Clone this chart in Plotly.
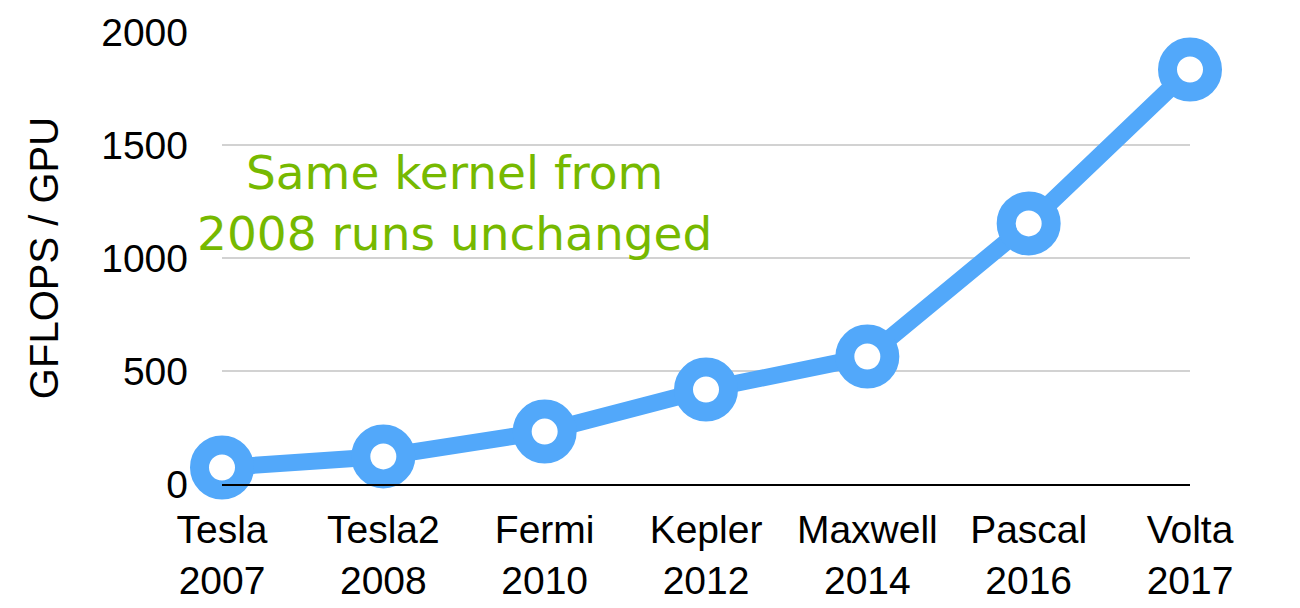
'''
    Line chart of GFLOPS per GPU across generations.
'''

import plotly.graph_objects as go

gpus = ['Tesla<br>2007', 'Tesla2<br>2008', 'Fermi<br>2010', 'Kepler<br>2012',
        'Maxwell<br>2014', 'Pascal<br>2016', 'Volta<br>2017']
gflops = [73, 122, 232, 418, 564, 1153, 1834]
y_ticks = [0, 500, 1000, 1500, 2000]

note = 'Same kernel from<br>2008 runs unchanged'

BLUE = 'rgb(82,168,250)'
GREEN = 'rgb(118,185,0)'


def line_chart():
    fig = go.Figure()
    fig.add_trace(go.Scatter(
        x=list(range(len(gpus))), y=gflops, mode='lines+markers',
        line=dict(color=BLUE, width=17),
        marker=dict(size=45, color='white', line=dict(color=BLUE, width=19)),
        cliponaxis=False, showlegend=False))

    fig.add_annotation(x=1.44, y=1245, xref='x', yref='y', text=note,
                       showarrow=False, align='center',
                       font=dict(family='DejaVu Sans', size=47, color=GREEN))

    fig.update_xaxes(range=[0, 6], tickmode='array', tickvals=list(range(len(gpus))),
                     ticktext=gpus, showgrid=False, zeroline=False, automargin=False,
                     showline=True, linecolor='black', linewidth=2,
                     ticks='', ticklabelstandoff=10,
                     tickfont=dict(family='Liberation Sans', size=39, color='black'))
    fig.update_yaxes(range=[0, 2000], tickvals=y_ticks, showgrid=True, automargin=False,
                     gridcolor='rgb(210,210,210)', gridwidth=1.5, zeroline=False,
                     showline=False, ticks='', ticklabelstandoff=33,
                     tickfont=dict(family='Liberation Sans', size=39, color='black'),
                     title=dict(text='GFLOPS / GPU', standoff=30,
                                font=dict(family='Liberation Sans', size=40, color='black')))
    # page body adds an 8px offset, so the figure is a bit smaller than the window
    fig.update_layout(width=1292, height=600, plot_bgcolor='white', paper_bgcolor='white',
                      margin=dict(l=214, r=110, t=24, b=124))
    return fig


fig = line_chart()
fig.write_html('out.html')
